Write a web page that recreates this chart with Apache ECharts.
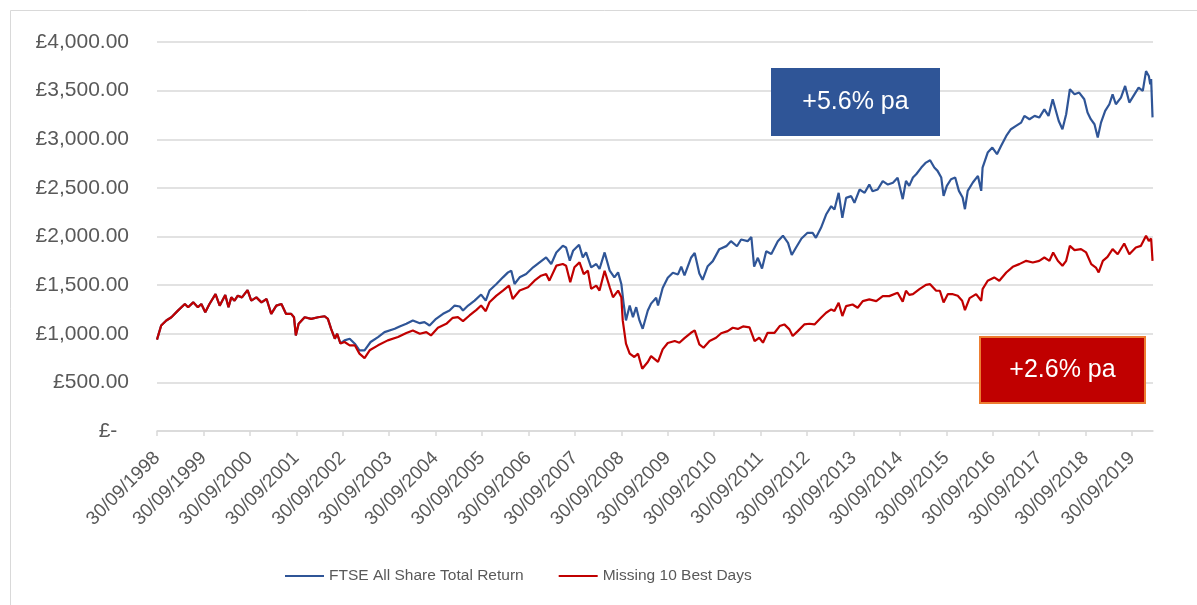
<!DOCTYPE html>
<html><head><meta charset="utf-8">
<script src="https://cdn.jsdelivr.net/npm/echarts@6/dist/echarts.min.js"></script>
<style>html,body{margin:0;padding:0;background:#fff}#c{width:1197px;height:605px}</style>
</head><body><div id="c"></div>
<script>
// x values = years elapsed since 30/09/1998
const tickLabels = ['30/09/1998','30/09/1999','30/09/2000','30/09/2001','30/09/2002','30/09/2003','30/09/2004','30/09/2005','30/09/2006','30/09/2007','30/09/2008','30/09/2009','30/09/2010','30/09/2011','30/09/2012','30/09/2013','30/09/2014','30/09/2015','30/09/2016','30/09/2017','30/09/2018','30/09/2019'];
const yTickValues = [0,500,1000,1500,2000,2500,3000,3500,4000];

const sharedT = [0,0.09,0.2,0.31,0.45,0.6,0.67,0.78,0.88,0.955,1.04,1.13,1.26,1.35,1.47,1.54,1.6,1.67,1.74,1.83,1.95,2.03,2.14,2.25,2.36,2.46,2.57,2.68,2.78,2.89,2.95,2.99,3.05,3.18,3.32,3.47,3.61,3.68,3.75,3.83,3.88,3.95];
const sharedV = [940,1085,1136,1170,1238,1306,1272,1323,1272,1306,1221,1306,1408,1289,1398,1272,1374,1340,1391,1374,1449,1340,1374,1323,1357,1204,1289,1306,1204,1204,1170,983,1102,1170,1153,1170,1180,1153,1051,949,1000,900];

const ftseT = [4.04,4.15,4.26,4.36,4.47,4.6,4.76,4.9,5.12,5.225,5.37,5.51,5.66,5.76,5.87,6.01,6.16,6.3,6.41,6.52,6.59,6.7,6.84,6.98,7.08,7.16,7.31,7.45,7.56,7.63,7.7,7.81,7.95,8.1,8.24,8.38,8.49,8.6,8.74,8.81,8.89,8.96,9.09,9.17,9.24,9.35,9.46,9.53,9.64,9.75,9.85,9.93,10.0,10.05,10.1,10.18,10.25,10.32,10.39,10.46,10.57,10.64,10.75,10.79,10.89,11.0,11.11,11.22,11.29,11.36,11.5,11.58,11.68,11.75,11.86,11.97,12.11,12.26,12.36,12.49,12.58,12.72,12.8,12.86,12.94,13.03,13.12,13.23,13.37,13.48,13.59,13.67,13.76,13.88,14.01,14.12,14.19,14.3,14.41,14.52,14.59,14.68,14.76,14.84,14.95,15.02,15.13,15.24,15.34,15.41,15.52,15.63,15.74,15.85,15.95,16.06,16.13,16.2,16.28,16.35,16.46,16.56,16.65,16.74,16.81,16.89,16.94,17.01,17.1,17.19,17.27,17.35,17.4,17.46,17.57,17.68,17.75,17.78,17.89,17.99,18.09,18.18,18.29,18.39,18.5,18.61,18.68,18.79,18.9,19.0,19.11,19.2,19.29,19.36,19.42,19.5,19.58,19.66,19.76,19.86,19.97,20.04,20.11,20.19,20.26,20.33,20.42,20.51,20.58,20.65,20.76,20.85,20.94,21.05,21.14,21.23,21.3,21.36,21.39,21.41,21.44];
const ftseV = [932,949,898,830,830,915,966,1017,1051,1075,1102,1137,1109,1119,1085,1154,1205,1239,1290,1280,1239,1290,1341,1403,1341,1444,1512,1580,1631,1648,1512,1580,1614,1683,1734,1785,1717,1836,1904,1887,1751,1853,1915,1785,1836,1683,1717,1666,1836,1648,1580,1631,1512,1307,1137,1290,1171,1273,1137,1051,1239,1310,1370,1290,1470,1575,1627,1610,1690,1600,1781,1830,1620,1555,1695,1747,1870,1901,1952,1900,1969,1952,1995,1690,1781,1670,1849,1820,1952,2008,1935,1810,1884,1980,2038,2038,1986,2089,2226,2312,2278,2449,2192,2397,2415,2346,2483,2449,2534,2466,2483,2569,2534,2552,2603,2384,2572,2521,2606,2640,2709,2760,2784,2709,2675,2606,2418,2521,2589,2606,2469,2401,2281,2469,2555,2623,2469,2709,2863,2914,2846,2932,3034,3103,3137,3171,3240,3206,3240,3223,3308,3240,3411,3291,3188,3103,3257,3514,3462,3480,3411,3274,3206,3154,3017,3171,3291,3360,3462,3360,3428,3548,3377,3462,3531,3497,3700,3651,3565,3620,3225];

const missT = [3.97,4.04,4.15,4.26,4.36,4.47,4.58,4.76,4.97,5.19,5.225,5.37,5.51,5.66,5.8,5.9,6.05,6.23,6.37,6.48,6.59,6.73,6.88,6.98,7.08,7.16,7.31,7.45,7.58,7.66,7.81,7.99,8.13,8.27,8.38,8.45,8.6,8.74,8.81,8.9,8.99,9.1,9.19,9.28,9.35,9.46,9.53,9.64,9.75,9.82,9.93,10.0,10.03,10.1,10.18,10.28,10.36,10.45,10.57,10.64,10.79,10.89,11.0,11.15,11.25,11.36,11.5,11.58,11.68,11.77,11.9,12.04,12.15,12.29,12.4,12.51,12.62,12.76,12.87,12.97,13.05,13.15,13.3,13.41,13.51,13.62,13.69,13.8,13.94,14.05,14.16,14.3,14.41,14.52,14.59,14.68,14.76,14.84,14.98,15.09,15.2,15.34,15.49,15.63,15.77,15.95,16.06,16.13,16.2,16.28,16.42,16.56,16.65,16.78,16.86,16.94,17.03,17.14,17.245,17.34,17.4,17.5,17.64,17.75,17.78,17.89,18.03,18.14,18.29,18.43,18.57,18.72,18.86,19.0,19.11,19.22,19.3,19.4,19.5,19.58,19.66,19.76,19.9,20.01,20.12,20.22,20.28,20.37,20.47,20.58,20.69,20.83,20.94,21.08,21.19,21.3,21.36,21.41,21.44];
const missV = [881,915,881,881,796,750,830,881,932,966,983,1007,1034,1000,1017,983,1061,1102,1164,1171,1130,1188,1246,1290,1232,1324,1392,1444,1495,1358,1444,1478,1546,1597,1614,1546,1700,1717,1700,1529,1683,1734,1614,1648,1461,1495,1444,1648,1478,1375,1444,1375,1137,898,795,761,795,640,710,770,710,839,905,925,908,955,1010,1035,890,856,925,959,1005,1027,1062,1050,1075,1065,925,959,908,1010,1010,1079,1096,1045,976,1027,1096,1103,1096,1164,1216,1250,1233,1318,1182,1284,1301,1267,1336,1353,1336,1387,1387,1421,1330,1442,1400,1407,1459,1503,1510,1442,1442,1322,1407,1407,1390,1339,1243,1366,1407,1339,1459,1545,1579,1545,1630,1688,1716,1750,1733,1750,1784,1750,1836,1750,1699,1750,1904,1860,1870,1836,1716,1681,1630,1750,1791,1870,1818,1928,1818,1887,1904,2007,1955,1980,1750];

const seriesNames = ['FTSE All Share Total Return','Missing 10 Best Days'];
const notes = ['+5.6% pa','+2.6% pa'];

const shared = sharedT.map((t,i)=>[t,sharedV[i]]);
const ftseData = shared.concat(ftseT.map((t,i)=>[t,ftseV[i]]));
const missData = shared.concat(missT.map((t,i)=>[t,missV[i]]));
const tickVals = tickLabels.map((_,i)=>i);

function money(v){
  if(v===0) return '£-  ';
  return '£' + v.toLocaleString('en-GB',{minimumFractionDigits:2,maximumFractionDigits:2});
}

const chart = echarts.init(document.getElementById('c'));
const AX = 'Liberation Sans';
chart.setOption({
  animation:false,
  backgroundColor:'#fff',
  grid:{left:157,right:44,top:42,bottom:174,containLabel:false},
  xAxis:{
    type:'value',min:0,max:21.45,interval:1,
    axisLine:{lineStyle:{color:'#D9D9D9',width:1.5}},
    axisTick:{show:true,length:5,lineStyle:{color:'#D9D9D9',width:1.5},customValues:tickVals},
    splitLine:{show:false},
    axisLabel:{rotate:45,margin:24,color:'#595959',fontFamily:AX,fontSize:19,
      customValues:tickVals,showMaxLabel:true,
      formatter:v=>Number.isInteger(v)&&tickLabels[v]?tickLabels[v]:''}
  },
  yAxis:{
    type:'value',min:0,max:4000,interval:500,
    axisLine:{show:false},axisTick:{show:false},
    splitLine:{lineStyle:{color:'#D9D9D9',width:1.5}},
    axisLabel:{margin:28,color:'#595959',fontFamily:AX,fontSize:21,formatter:money}
  },
  legend:{
    left:280,top:563,itemWidth:39,itemHeight:2,itemGap:35,icon:'rect',
    textStyle:{color:'#595959',fontFamily:AX,fontSize:15.5},
    data:seriesNames
  },
  series:[
    {name:seriesNames[0],type:'line',data:ftseData,showSymbol:false,symbol:'none',
     lineStyle:{color:'#2F5597',width:2.2},itemStyle:{color:'#2F5597'},z:2},
    {name:seriesNames[1],type:'line',data:missData,showSymbol:false,symbol:'none',
     lineStyle:{color:'#C00000',width:2.2},itemStyle:{color:'#C00000'},z:3}
  ],
  graphic:[
    {type:'rect',shape:{x:10.5,y:10.5,width:1250,height:700},style:{fill:'none',stroke:'#D9D9D9',lineWidth:1},z:-1,silent:true},
    {type:'rect',shape:{x:771,y:68,width:169,height:68},style:{fill:'#2F5597'},z:10},
    {type:'text',x:855.5,y:102,style:{text:notes[0],fill:'#fff',font:'25px Liberation Sans',textAlign:'center',textVerticalAlign:'middle'},z:11},
    {type:'rect',shape:{x:980,y:337,width:165,height:66},style:{fill:'#C00000',stroke:'#ED7D31',lineWidth:2},z:10},
    {type:'text',x:1062.5,y:370,style:{text:notes[1],fill:'#fff',font:'25px Liberation Sans',textAlign:'center',textVerticalAlign:'middle'},z:11}
  ]
});
</script></body></html>
